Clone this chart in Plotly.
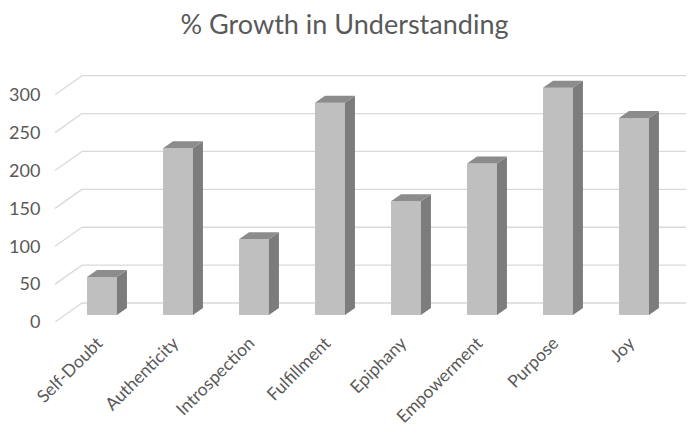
import plotly.graph_objects as go

categories = ["Self-Doubt", "Authenticity", "Introspection", "Fulfillment",
              "Epiphany", "Empowerment", "Purpose", "Joy"]
values = [50, 220, 100, 280, 150, 200, 300, 260]
y_ticks = [0, 50, 100, 150, 200, 250, 300]
title_text = "% Growth in Understanding"

# 3D projection parameters (data units per unit depth)
DX = 0.355
DY = 25.1
D_FRONT = 0.37
D_BACK = 0.74
HW = 0.197
X_MIN, X_MAX = -0.487, 7.816
Y_MAX = 330
LABEL_SHIFT = -0.06

TXT = "#595959"
GRID = "#d9d9d9"

fig = go.Figure()

# back wall gridlines and side wall diagonals (shapes below traces)
shapes = []
for v in y_ticks:
    shapes.append(dict(type="line", xref="x", yref="y", layer="below",
                       x0=X_MIN + DX, y0=v + DY, x1=X_MAX, y1=v + DY,
                       line=dict(color=GRID, width=1.3)))
    shapes.append(dict(type="line", xref="x", yref="y", layer="below",
                       x0=X_MIN, y0=v, x1=X_MIN + DX, y1=v + DY,
                       line=dict(color=GRID, width=1.3)))

centers = [i + D_FRONT * DX for i in range(len(categories))]
base = D_FRONT * DY
dd = D_BACK - D_FRONT

# front faces
fig.add_trace(go.Bar(x=centers, y=values, base=base, width=2 * HW,
                     marker=dict(color="#bfbfbf", line=dict(width=0)),
                     hoverinfo="skip"))

# side and top faces
sx, sy = [], []
tx, ty = [], []
for c, v in zip(centers, values):
    xl, xr = c - HW, c + HW
    sx += [xr, xr, xr + dd * DX, xr + dd * DX, xr, None]
    sy += [base, base + v, base + v + dd * DY, base + dd * DY, base, None]
    tx += [xl, xr, xr + dd * DX, xl + dd * DX, xl, None]
    ty += [base + v, base + v, base + v + dd * DY, base + v + dd * DY, base + v, None]

fig.add_trace(go.Scatter(x=sx, y=sy, mode="lines", fill="toself",
                         fillcolor="#7c7c7c", line=dict(width=0, color="#7c7c7c"),
                         hoverinfo="skip"))
fig.add_trace(go.Scatter(x=tx, y=ty, mode="lines", fill="toself",
                         fillcolor="#8c8c8c", line=dict(width=0, color="#8c8c8c"),
                         hoverinfo="skip"))

fig.update_layout(
    width=689, height=430,
    margin=dict(l=55, r=3, t=72, b=108, autoexpand=False),
    paper_bgcolor="white", plot_bgcolor="white",
    showlegend=False, hovermode=False,
    shapes=shapes,
    title=dict(text=title_text, x=0.5, xanchor="center", y=1 - 25 / 430,
               yanchor="middle", yref="container",
               font=dict(family="Lato", size=27, color=TXT)),
    xaxis=dict(range=[X_MIN, X_MAX], tickvals=[c + LABEL_SHIFT for c in centers],
               ticktext=categories, automargin=False,
               tickangle=-45, showgrid=False, zeroline=False, showline=False,
               ticks="outside", ticklen=3, tickcolor="rgba(0,0,0,0)",
               tickfont=dict(family="Lato", size=17.5, color=TXT)),
    yaxis=dict(range=[0, Y_MAX], tickvals=y_ticks, ticktext=[str(v) for v in y_ticks],
               automargin=False,
               showgrid=False, zeroline=False, showline=False,
               ticks="outside", ticklen=10, tickcolor="rgba(0,0,0,0)",
               tickfont=dict(family="Lato", size=18, color=TXT)),
)

fig.write_html("out.html")
